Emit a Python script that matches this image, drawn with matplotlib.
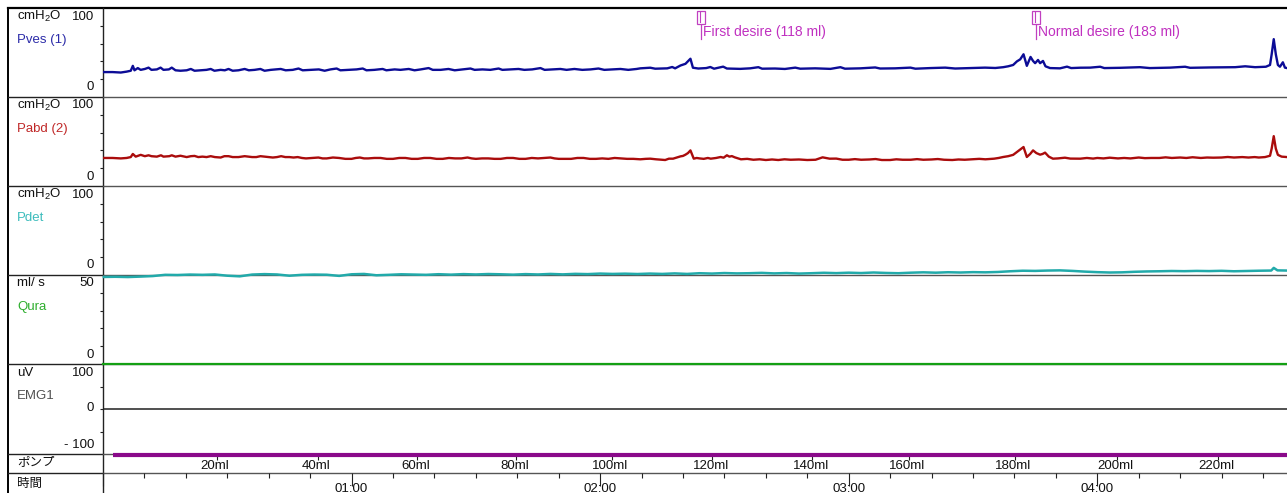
import numpy as np
import matplotlib.pyplot as plt
from matplotlib.patches import Rectangle
from matplotlib.ticker import MultipleLocator

plt.rcParams['font.family'] = ['Liberation Sans', 'Noto Sans CJK JP', 'DejaVu Sans']
plt.rcParams['mathtext.fontset'] = 'custom'
plt.rcParams['mathtext.rm'] = 'Liberation Sans'

# ---- recorded channels (time in seconds from start of filling) ----
pves_t = [0.2, 2.3, 4.3, 5.7, 6.7, 7.2, 7.6, 8.4, 9.1, 10.1, 11.0, 11.7, 13.0, 13.9, 14.6,
          15.9, 16.6, 17.5, 18.7, 20.2, 21.2, 22.1, 23.6, 25.0, 26.0, 26.9, 28.4, 29.4, 30.3,
          31.3, 32.7, 34.2, 35.2, 36.6, 38.0, 39.0, 40.5, 42.9, 44.1, 45.8, 47.2, 48.2, 50.1,
          52.1, 53.5, 54.9, 56.4, 57.3, 59.3, 61.2, 62.7, 63.6, 65.5, 67.5, 68.4, 70.4, 71.8,
          73.8, 75.2, 76.7, 78.6, 79.6, 81.5, 83.4, 84.9, 86.8, 88.7, 89.7, 91.6, 93.5, 95.5,
          96.4, 98.4, 100.3, 101.7, 103.6, 105.6, 106.6, 108.5, 110.4, 111.9, 113.8, 115.7,
          117.7, 119.6, 121.0, 123.0, 124.9, 126.8, 128.8, 129.7, 132.1, 133.3, 136.2, 137.4,
          138.1, 139.4, 140.6, 141.8, 142.4, 143.7, 145.6, 146.6, 147.5, 149.7, 150.6, 153.8,
          156.2, 158.2, 159.1, 162.2, 164.6, 167.1, 168.3, 171.9, 175.6, 178.0, 179.1, 182.8,
          186.4, 187.6, 191.2, 194.9, 196.1, 199.7, 203.3, 205.7, 209.3, 212.9, 215.4, 217.3,
          218.5, 219.7, 220.6, 221.4, 222.2, 223.0, 223.9, 224.5, 225.0, 225.7, 226.2, 226.9,
          227.5, 228.6, 231.0, 232.7, 233.7, 235.9, 238.3, 240.7, 241.7, 245.5, 250.3, 252.7,
          257.6, 261.2, 262.4, 267.2, 273.3, 275.7, 278.1, 280.7, 281.7, 282.1, 282.6, 283.1,
          283.6, 284.1, 284.8, 285.3, 285.8]
pves = [28, 28, 27.5, 28.5, 29.5, 35, 30, 32.5, 30.5, 31.5, 33, 30.5, 31, 33, 30.5,
        31, 33, 30, 29.5, 30, 31.5, 29.5, 30, 30.5, 31.5, 29.5, 30.5, 30, 31.5,
        29.5, 30, 31.5, 30, 30.5, 31.5, 29.5, 30.5, 31.5, 30, 30.5, 32, 30, 30.5,
        31, 29.5, 31, 32, 30, 30.5, 31, 32, 30, 30.5, 31.5, 30, 31, 30.5,
        31.5, 30, 31, 32.5, 30.5, 30.5, 31.5, 30, 31, 32, 30.5, 31, 30.5, 32,
        30.5, 31, 31.5, 30.5, 31, 32.5, 30.5, 31, 31.5, 30.5, 31.5, 30.5,
        31, 32, 30.5, 31, 31.5, 30.5, 31.5, 32.2, 32.9, 31.8, 32.2, 33.7,
        32.2, 35.4, 37.3, 43, 32.9, 32, 32.5, 33.7, 31.8, 34.1, 32, 31.6,
        32.2, 33.5, 31.8, 32, 31.5, 33, 31.8, 32.2, 31.6, 33.5, 31.8, 32.2,
        33.2, 32, 32.2, 33, 31.8, 32.5, 33, 32, 32.5, 33, 32.6, 33.5,
        34.5, 36, 40, 42.3, 48, 35, 45, 40.5, 38, 41.6, 38, 40.5,
        34.5, 32.5, 32.2, 34.1, 32.5, 32.9, 33, 34, 32.5, 32.8, 33.5, 32.5,
        33, 34, 32.8, 33.2, 33.5, 34.5, 33.5, 34, 36, 48, 65, 48,
        36, 34, 39, 33, 32.5]

pabd_t = [0.2, 2.3, 4.3, 5.7, 6.7, 7.2, 7.9, 9.1, 10.1, 11.0, 11.7, 13.0, 14.0, 14.6, 16.0,
          16.6, 17.5, 18.7, 20.2, 21.2, 22.1, 23.0, 24.0, 25.0, 26.0, 27.0, 28.4, 29.3, 30.3,
          31.3, 32.7, 34.2, 35.2, 36.0, 37.0, 38.0, 39.0, 40.0, 41.0, 42.0, 43.0, 44.0, 45.0,
          46.0, 47.0, 48.0, 49.0, 50.5, 52.0, 53.0, 54.0, 55.5, 57.0, 58.5, 60.0, 61.0, 62.0,
          63.0, 64.0, 65.5, 67.0, 68.5, 70.0, 71.5, 73.0, 74.5, 76.0, 77.5, 79.0, 80.5, 82.0,
          83.5, 85.0, 86.5, 88.0, 89.0, 90.0, 91.5, 93.0, 94.5, 96.0, 97.5, 99.0, 100.5, 102.0,
          103.5, 105.0, 106.5, 108.0, 109.0, 110.0, 111.5, 113.0, 114.5, 116.0, 117.5, 119.0,
          120.5, 122.0, 123.5, 125.0, 126.5, 128.0, 129.7, 131.0, 132.1, 133.5, 135.7, 136.6,
          137.6, 138.5, 139.4, 140.0, 140.6, 141.2, 141.8, 142.6, 143.3, 144.0, 145.0, 146.0,
          146.7, 148.0, 149.1, 149.8, 150.6, 151.2, 151.8, 152.5, 154.0, 155.5, 157.0, 158.5,
          160.0, 161.5, 163.0, 164.5, 166.0, 168.0, 170.0, 172.0, 173.7, 175.4, 177.0, 178.5,
          180.0, 181.5, 183.0, 185.0, 186.5, 188.0, 190.0, 191.5, 193.0, 195.0, 196.5, 198.0,
          200.0, 201.5, 203.0, 205.0, 206.5, 208.0, 210.0, 211.5, 213.0, 215.1, 216.2, 217.3,
          218.5, 219.7, 220.6, 221.4, 222.2, 223.0, 223.8, 224.5, 225.3, 226.2, 226.8, 227.4,
          228.3, 229.3, 230.5, 232.2, 233.5, 235.9, 237.5, 239.0, 240.0, 241.5, 243.0, 245.0,
          246.5, 248.0, 250.0, 251.5, 253.0, 255.0, 256.5, 258.0, 260.0, 261.5, 263.0, 265.0,
          266.5, 268.0, 270.0, 271.5, 273.0, 275.0, 276.5, 278.0, 279.0, 280.5, 281.7, 282.1,
          282.6, 283.1, 283.6, 284.5, 285.8]
pabd = [31.5, 31.5, 31, 31.5, 32.5, 36, 33, 35, 33.5, 34.5, 33.5, 33, 34.5, 33, 33.5,
        34.5, 33, 34, 32.5, 33.5, 33.8, 32.5, 33, 32.5, 33.5, 32.5, 32, 33.5, 33.5,
        32.5, 32.5, 33.5, 33, 32.5, 32.5, 33.5, 33, 32.5, 32, 32.5, 33.5, 32.5, 32.5,
        32, 32.5, 31.5, 31, 31.5, 32, 31, 31, 32, 31.5, 30.5, 30.5, 31.5, 32,
        31, 31, 31.5, 31.5, 30.5, 30.5, 31.5, 31.5, 30.5, 30.5, 31.5, 31.5, 30.5, 30.5,
        31.5, 31, 31, 32, 31, 30.5, 31, 31, 30.5, 30.5, 31.5, 31.5, 30.5, 30.5,
        31.5, 31, 31.5, 32, 31, 30.5, 30.5, 30.5, 31.5, 31.5, 30.5, 30.5,
        31, 30.5, 31.5, 31, 30.5, 30.5, 30, 30.5, 30.7, 30, 29.2, 30.7,
        30.7, 32, 33.3, 33.8, 35.2, 37, 40, 30.7, 31.5, 31, 30.5, 31.5,
        30.7, 31.5, 32.6, 31.8, 34.5, 33, 33.6, 32.2, 30, 30.5, 29.5, 30,
        29.2, 29.8, 29.2, 30, 29.5, 29.8, 29.2, 29.5, 32.2, 30.7, 30.8, 29.5,
        29.5, 30.2, 29.5, 29.8, 30.3, 29.2, 29.2, 30, 29.5, 29.5, 30.2, 29.5,
        29.8, 30.3, 29.5, 29.2, 29.8, 29.5, 30, 30.5, 30, 30.7, 31.5, 32.6,
        33.5, 35, 38.2, 41, 43.8, 32.6, 36, 40, 37, 35.2, 36, 37.5,
        33, 30.7, 31, 31.8, 30.8, 30.7, 31.5, 30.8, 31.5, 31, 31.8, 31,
        31.5, 31, 32, 31.3, 31.5, 31.5, 32.2, 31.5, 32, 31.5, 32.3, 31.5,
        32, 31.8, 32, 32.6, 32, 32.5, 32, 32.5, 32, 32.5, 34, 42,
        56, 42, 35, 33, 32.5]

pdet_t = [0.2, 3, 6, 9, 12, 15, 18, 21, 24, 27, 30, 33, 36, 39, 42, 45, 48, 51, 54, 57,
          60, 63, 66, 69, 72, 75, 78, 81, 84, 87, 90, 93, 96, 99, 102, 105, 108, 111, 114,
          117, 120, 123, 126, 129, 132, 135, 138, 141, 144, 147, 150, 153, 156, 159, 162,
          165, 168, 171, 174, 177, 180, 183, 186, 189, 192, 195, 198, 201, 204, 207, 210,
          213, 216, 219, 222, 225, 228, 231, 234, 237, 240, 243, 246, 249, 252, 255, 258,
          261, 264, 267, 270, 273, 276, 279, 282, 282.6, 283.5, 285.8]
pdet = [-2.2, -2.0, -2.3, -1.8, -1.2, 0.2, 0, 0.5, 0.2, 0.6, -0.8, -1.5, 0.5, 1.0, 0.6,
        -0.8, 0.2, 0.5, 0.3, -1.0, 0.8, 1.2, -0.3, 0.2, 0.8, 0.5, 0.2, 0.9, 0.4, 1.0,
        0.6, 1.1, 0.8, 0.4, 1.0, 0.6, 1.2, 0.7, 1.3, 1.0, 1.6, 1.2, 1.5, 1.1, 1.6,
        1.2, 1.8, 1.2, 2.0, 1.6, 2.2, 1.8, 2.0, 2.4, 1.8, 2.2, 1.6, 2.0, 2.5, 2.1,
        2.6, 2.2, 2.8, 2.3, 2.0, 2.6, 3.0, 2.6, 3.1, 2.8, 3.2, 3.0, 3.4, 4.2, 4.8,
        4.6, 5.0, 5.2, 4.6, 3.8, 3.2, 2.8, 3.0, 3.6, 4.0, 4.2, 4.5, 4.3, 4.6, 4.4,
        4.7, 4.2, 4.5, 4.8, 5.0, 8.0, 5.2, 5.0]

qura_t = [0.0, 285.8]
qura = [0.0, 0.0]
emg_t = [0.0, 285.8]
emg = [0.0, 0.0]

# infused volume marks on the pump row
pump_start = 2.4
pump_vol = [20, 40, 60, 80, 100, 120, 140, 160, 180, 200, 220]
pump_vol_t = [27.4, 51.8, 75.9, 99.8, 122.9, 147.1, 171.2, 194.6, 220.2, 244.8, 269.2]

# event markers
events = ['First desire (118 ml)', 'Normal desire (183 ml)']
event_t = [144.4, 225.3]

T_END = 285.8

# ---- layout (pixels) ----
W, H = 1287, 493
X0 = 103
rows = [(8, 97), (97, 186), (186, 275), (275, 364), (364, 454)]
PUMP_ROW = (454, 473)
TIME_ROW = (473, 493)

fig = plt.figure(figsize=(W / 100, H / 100), dpi=100)
fig.patch.set_facecolor('white')

frame = fig.add_axes([0, 0, 1, 1])
frame.set_xlim(0, W)
frame.set_ylim(H, 0)
frame.axis('off')

# outer frame and row separators
frame.plot([8, W], [8, 8], color='black', lw=1.6)
frame.plot([8, 8], [8, H], color='black', lw=1.4)
frame.plot([X0, X0], [8, H], color='#222222', lw=1.0)
for y in [97, 186, 275, 364, 454, 473]:
    frame.plot([8, X0], [y, y], color='#222222', lw=1.0)
    frame.plot([X0, W], [y, y], color='#555555', lw=1.0)


def add_row(top, bottom):
    ax = fig.add_axes([X0 / W, 1 - bottom / H, (W - X0) / W, (bottom - top) / H])
    ax.set_xlim(0, T_END)
    ax.patch.set_alpha(0)
    for s in ax.spines.values():
        s.set_visible(False)
    ax.set_xticks([])
    ax.tick_params(axis='y', direction='out', length=2.5, width=0.8,
                   color='#222222', labelleft=False)
    return ax


# channel label column
channels = [
    ('cmH$_\\mathrm{2}$O', 'Pves (1)', '#2a2aa8', ('100', '0'), (0, 100), [20, 40, 60, 80]),
    ('cmH$_\\mathrm{2}$O', 'Pabd (2)', '#c02828', ('100', '0'), (0, 100), [20, 40, 60, 80]),
    ('cmH$_\\mathrm{2}$O', 'Pdet', '#3cbcbc', ('100', '0'), (0, 100), [20, 40, 60, 80]),
    ('ml/ s', 'Qura', '#2eae2e', ('50', '0'), (0, 50), [10, 20, 30, 40]),
    ('uV', 'EMG1', '#505050', ('100', '- 100'), (-100, 100), [-50, 0, 50]),
]

axes = []
for (top, bottom), (unit, name, col, lims, rng, ticks) in zip(rows, channels):
    ax = add_row(top, bottom)
    ax.set_ylim(*rng)
    ax.set_yticks(ticks)
    axes.append(ax)
    frame.text(17, top + 8.5, unit, fontsize=9.5, ha='left', va='center', color='#111111')
    frame.text(94, top + 8.5, lims[0], fontsize=9.5, ha='right', va='center', color='#111111')
    frame.text(94, bottom - 9.5, lims[1], fontsize=9.5, ha='right', va='center', color='#111111')
    frame.text(17, top + 32, name, fontsize=9.5, ha='left', va='center', color=col)

frame.text(94, 408, '0', fontsize=9.5, ha='right', va='center', color='#111111')
frame.text(17, 462, 'ポンプ', fontsize=9, ha='left', va='center', color='#111111')
frame.text(17, 484, '時間', fontsize=9, ha='left', va='center', color='#111111')

ax_pves, ax_pabd, ax_pdet, ax_qura, ax_emg = axes
ax_pves.plot(pves_t, pves, color='#0c0c96', lw=1.7)
ax_pabd.plot(pabd_t, pabd, color='#aa0c0c', lw=1.7)
ax_pdet.plot(pdet_t, pdet, color='#22aaaa', lw=1.8, clip_on=False)
ax_qura.plot(qura_t, qura, color='#14a014', lw=1.6, clip_on=False)
ax_emg.plot(emg_t, emg, color='#202020', lw=1.1)

# event markers on the Pves row
trans = ax_pves.get_xaxis_transform()
for label, t in zip(events, event_t):
    ax_pves.add_patch(Rectangle((t - 0.95, 0.82), 1.9, 0.145, transform=trans,
                                fill=False, edgecolor='#c040c0', lw=0.9, clip_on=False))
    ax_pves.plot([t - 0.3, t - 0.3], [0.84, 0.95], transform=trans, color='#c040c0', lw=0.8)
    ax_pves.plot([t, t], [0.65, 0.81], transform=trans, color='#c040c0', lw=0.9)
    ax_pves.text(t + 0.4, 0.73, label, transform=trans, fontsize=10,
                 color='#c030c0', ha='left', va='center')

# pump row: infusion bar and volume ticks
ax_pump = add_row(*PUMP_ROW)
ax_pump.set_ylim(0, 1)
ax_pump.set_yticks([])
ax_pump.plot([pump_start, T_END], [0.95, 0.95], color='#8a0a8a', lw=3.0,
             solid_capstyle='butt', clip_on=False)
ax_pump.set_xticks(pump_vol_t)
ax_pump.tick_params(axis='x', top=True, bottom=False, direction='in', length=4.5,
                    width=0.8, color='#222222', labeltop=False, labelbottom=False)
for v, t in zip(pump_vol, pump_vol_t):
    ax_pump.text(t - 0.4, 0.36, f'{v}ml', fontsize=9.5, ha='center', va='center',
                 color='#111111')

# time row
ax_time = add_row(*TIME_ROW)
ax_time.set_ylim(0, 1)
ax_time.set_yticks([])
ax_time.xaxis.set_major_locator(MultipleLocator(60))
ax_time.xaxis.set_minor_locator(MultipleLocator(10))
ax_time.tick_params(axis='x', which='major', top=True, bottom=False, direction='in',
                    length=9, width=0.8, color='#222222', labeltop=False, labelbottom=False)
ax_time.tick_params(axis='x', which='minor', top=True, bottom=False, direction='in',
                    length=3.5, width=0.8, color='#222222')
for t in np.arange(60, T_END, 60):
    m, s = divmod(int(t), 60)
    ax_time.text(t, 0.22, f'{m:02d}:{s:02d}', fontsize=9.5, ha='center', va='center',
                 color='#111111')

fig.savefig('out.png', dpi=100)
